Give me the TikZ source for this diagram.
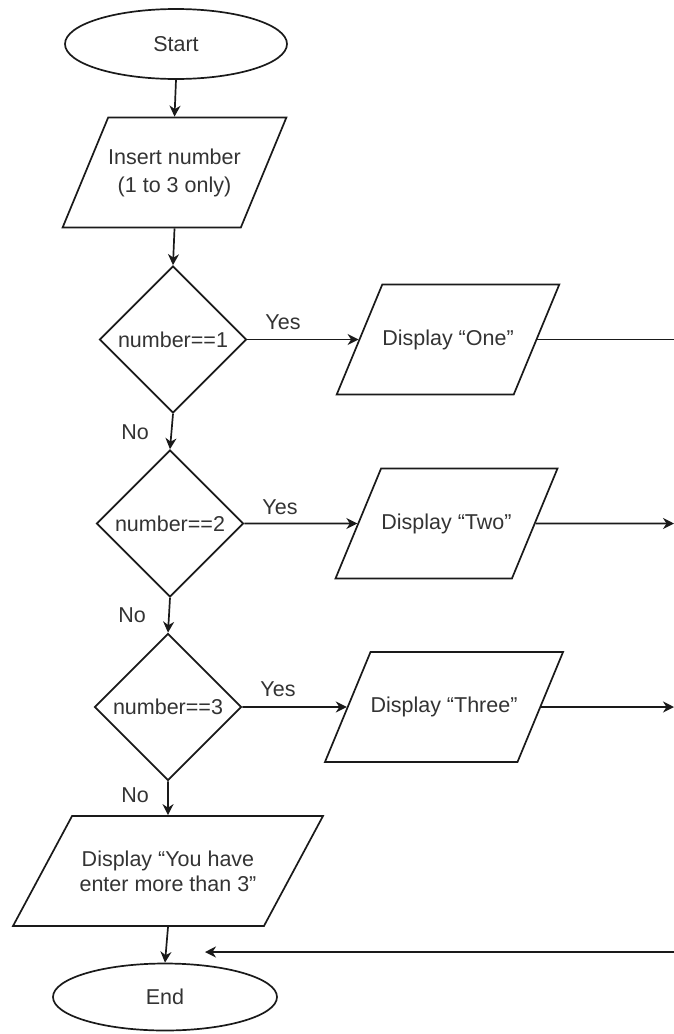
\documentclass[tikz,border=0pt]{standalone}
\usepackage{fontspec}
\setmainfont{Liberation Sans}
\usetikzlibrary{shapes.geometric,arrows.meta}
\definecolor{inkline}{HTML}{1A1A1A}
\definecolor{inktext}{HTML}{333333}
\tikzset{
  txt/.style={font=\fontsize{21.5}{25}\selectfont, text=inktext},
  term/.style={ellipse, draw=inkline, line width=1.7pt, txt, inner sep=0pt,
    minimum width=#1, minimum height=70pt},
  term/.default=222pt,
  io/.style={trapezium, trapezium left angle=67.5, trapezium right angle=112.5,
    trapezium stretches body, draw=inkline, line width=1.7pt, txt, align=center,
    inner xsep=0pt, inner ysep=45pt, minimum width=#1, minimum height=110pt},
  io/.default=221pt,
  test/.style={diamond, draw=inkline, line width=1.7pt, txt, inner sep=0pt,
    minimum width=147pt, minimum height=147pt},
  wire/.style={line width=1.7pt, draw=inkline},
  flow/.style={wire, -{Stealth[length=11pt,width=11pt,inset=3.5pt]}},
  lbl/.style={txt},
}
\begin{document}
\begin{tikzpicture}[x=1pt, y=-1pt]
\useasboundingbox (0,0) rectangle (674,1034);

\node[term] (start) at (176,44) {Start};
\node[io, inner ysep=31pt] (insert) at (174.5,172.5) {Insert number\\[3pt] (1 to 3 only)};

\node[test] (d1) at (173,339.5) {number==1};
\node[test] (d2) at (170,523.5) {number==2};
\node[test] (d3) at (168,707) {number==3};

\node[io=222pt] (one) at (448,339.5) {Display ``One''};
\node[io=222pt] (two) at (446.5,523.5) {Display ``Two''};
\node[io=222pt] (three) at (444,707) {Display ``Three''};

\node[io=310pt, inner ysep=34pt, trapezium left angle=61.5, trapezium right angle=118.5] (more)
  at (168,871) {Display ``You have\\ enter more than 3''};
\node[term=224pt, minimum height=67pt] (end) at (165,997) {End};

% ===== labels =====
\node[lbl] (yes1) at (283,322) {Yes};
\node[lbl] (yes2) at (280,507) {Yes};
\node[lbl] (yes3) at (278,689) {Yes};
\node[lbl] (no1) at (135,432) {No};
\node[lbl] (no2) at (132,615) {No};
\node[lbl] (no3) at (135,795) {No};

% ===== main column =====
\draw[flow] (start.south) -- (insert.north);
\draw[flow] (insert.south) -- (d1.north);
\draw[flow] (d1.south) -- (d2.north);     % No
\draw[flow] (d2.south) -- (d3.north);     % No
\draw[flow] (d3.south) -- (more.north);   % No
\draw[flow] (more.south) -- (end.north);

% ===== Yes branches =====
\draw[flow] (d1.east) -- (one.west);
\draw[flow] (d2.east) -- (two.west);
\draw[flow] (d3.east) -- (three.west);

% ===== lines off the right edge =====
\coordinate (oneout) at (674,339.5);
\coordinate (twoout) at (674,523.5);
\coordinate (threeout) at (674,707);
\coordinate (backin) at (674,952);
\coordinate (backtip) at (205,952);
\draw[wire] (one.east) -- (oneout);
\draw[flow] (two.east) -- (twoout);
\draw[flow] (three.east) -- (threeout);
\draw[flow] (backin) -- (backtip);         % back to End

\end{tikzpicture}
\end{document}
